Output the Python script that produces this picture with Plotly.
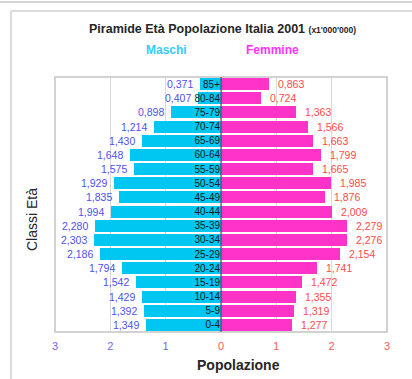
import plotly.graph_objects as go

# Italian population 2001 by age class, millions of people
age_classes = ["0-4", "5-9", "10-14", "15-19", "20-24", "25-29", "30-34", "35-39",
               "40-44", "45-49", "50-54", "55-59", "60-64", "65-69", "70-74",
               "75-79", "80-84", "85+"]
males = [1.349, 1.392, 1.429, 1.542, 1.794, 2.186, 2.303, 2.280, 1.994, 1.835,
         1.929, 1.575, 1.648, 1.430, 1.214, 0.898, 0.407, 0.371]
females = [1.277, 1.319, 1.355, 1.472, 1.741, 2.154, 2.276, 2.279, 2.009, 1.876,
           1.985, 1.665, 1.799, 1.663, 1.566, 1.363, 0.724, 0.863]

tick_vals = [-3, -2, -1, 0, 1, 2, 3]
tick_text = ["3", "2", "1", "0", "1", "2", "3"]
tick_colors = ["#6a6af5", "#6a6af5", "#6a6af5", "#ff5a5a", "#ff5a5a", "#ff5a5a", "#ff5a5a"]

MALE_COLOR = "#00c6f2"
FEMALE_COLOR = "#ff33c8"
FONT = "Liberation Sans, Arial, sans-serif"

W, H = 412, 379
L, R, T, B = 55, 25, 77, 47
PW, PH = W - L - R, H - T - B


def px(x):
    return (x - L) / PW


def py(y):
    return (H - B - y) / PH


def fmt(v):
    return f"{v:.3f}".replace(".", ",")


fig = go.Figure()
fig.add_trace(go.Bar(y=age_classes, x=[-v for v in males], orientation="h",
                     marker=dict(color=MALE_COLOR, line=dict(width=0)),
                     width=0.84, name="Maschi", hoverinfo="skip"))
fig.add_trace(go.Bar(y=age_classes, x=females, orientation="h",
                     marker=dict(color=FEMALE_COLOR, line=dict(width=0)),
                     width=0.84, name="Femmine", hoverinfo="skip"))

annotations = []
for age, m, f in zip(age_classes, males, females):
    annotations.append(dict(x=-m, y=age, xref="x", yref="y", text=fmt(m),
                            showarrow=False, xanchor="right", xshift=-5,
                            font=dict(family=FONT, size=10.5, color="#5050ee")))
    annotations.append(dict(x=f, y=age, xref="x", yref="y", text=fmt(f),
                            showarrow=False, xanchor="left", xshift=7,
                            font=dict(family=FONT, size=10.5, color="#ff4a4a")))


def label(x, y, text, size, color, angle=0):
    return dict(x=px(x), y=py(y), xref="paper", yref="paper", showarrow=False,
                xanchor="center", yanchor="middle", text=text, textangle=angle,
                font=dict(family=FONT, size=size, color=color))


annotations += [
    label(222, 29, "<b>Piramide Età Popolazione Italia 2001</b> "
                   "<b><span style='font-size:8.5px'>(x1'000'000)</span></b>", 12.5, "#262626"),
    label(166, 50, "<b>Maschi</b>", 12, "#33ccff"),
    label(272, 50, "<b>Femmine</b>", 12, "#ff33ff"),
    label(238, 365, "<b>Popolazione</b>", 14, "#262626"),
    label(32, 220, "Classi Età", 14, "#262626", angle=-90),
]

shapes = [
    # outer frame lines
    dict(type="line", xref="paper", yref="paper", x0=px(0), x1=px(W), y0=py(2), y1=py(2),
         line=dict(color="#c8c8c8", width=1.5)),
    dict(type="line", xref="paper", yref="paper", x0=px(11), x1=px(W), y0=py(11), y1=py(11),
         line=dict(color="#d0d0d0", width=1.5)),
    dict(type="line", xref="paper", yref="paper", x0=px(11), x1=px(11), y0=py(11), y1=py(H),
         line=dict(color="#d0d0d0", width=1.5)),
    # plot area border
    dict(type="rect", xref="paper", yref="paper", x0=0, x1=1, y0=0, y1=1,
         line=dict(color="#c4c4c4", width=1.5), layer="below"),
    # zero line on top of the bars
    dict(type="line", xref="x", yref="paper", x0=0, x1=0, y0=0, y1=1,
         line=dict(color="#404040", width=1), layer="above"),
]

fig.update_layout(
    width=W, height=H, margin=dict(l=L, r=R, t=T, b=B),
    paper_bgcolor="white", plot_bgcolor="white",
    barmode="overlay", bargap=0, showlegend=False,
    annotations=annotations, shapes=shapes,
    xaxis=dict(range=[-3, 3], tickvals=tick_vals,
               ticktext=[f"<span style='color:{c}'>{t}</span>" for t, c in zip(tick_text, tick_colors)],
               showgrid=True, gridcolor="#d9d9d9", gridwidth=1, zeroline=False,
               ticks="", ticklabelstandoff=6,
               tickfont=dict(family=FONT, size=11), fixedrange=True),
    yaxis=dict(categoryorder="array", categoryarray=age_classes,
               range=[-0.5, len(age_classes) - 0.5],
               anchor="free", position=0.5, side="left",
               showgrid=False, zeroline=False, showline=False, ticks="",
               ticklabelstandoff=1,
               tickfont=dict(family=FONT, size=10, color="#1a1a1a"),
               fixedrange=True),
)

fig.write_html("out.html")
